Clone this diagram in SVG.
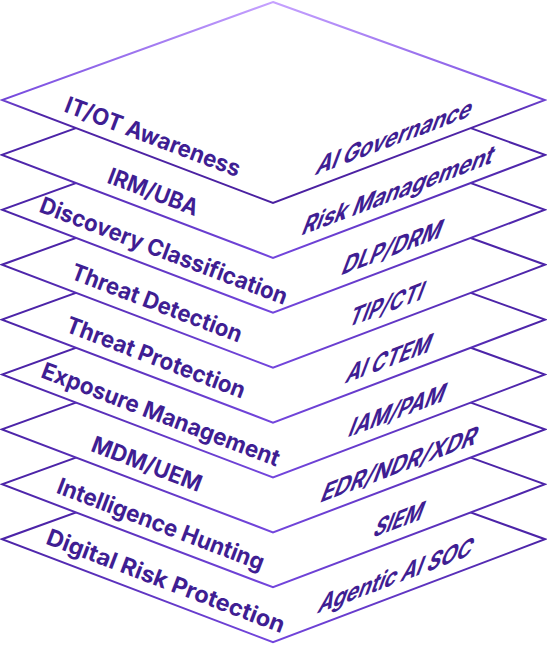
<svg xmlns="http://www.w3.org/2000/svg" width="547" height="645" viewBox="0 0 547 645">
<defs>
<linearGradient id="gTop" x1="0" y1="0" x2="0" y2="1">
<stop offset="0" stop-color="#c6a2ff"/>
<stop offset="0.46" stop-color="#7a4ee0"/>
<stop offset="0.56" stop-color="#4f25a8"/>
<stop offset="1" stop-color="#4a20a0"/>
</linearGradient>
<linearGradient id="gLayer" x1="0" y1="0" x2="0" y2="1">
<stop offset="0" stop-color="#4c24a8"/>
<stop offset="0.5" stop-color="#4c24a8"/>
<stop offset="1" stop-color="#7346dd"/>
</linearGradient>
</defs>
<style>
.layer{fill:#ffffff;stroke:url(#gLayer);stroke-width:2;stroke-linejoin:miter}
.top{stroke:url(#gTop)}
.lbl{font-family:Inter,"Noto Sans",sans-serif;font-weight:650;font-size:23px;fill:#3f1e93;text-anchor:middle}
</style>
<g id="connectors"/>
<g id="layer-8">
<polygon class="layer" points="273,441.2 545,539.2 273,642.2 2,539.2"/>
<text class="lbl" transform="translate(163,588.4) rotate(20.8)" textLength="253" lengthAdjust="spacingAndGlyphs">Digital Risk Protection</text>
<text class="lbl" transform="matrix(0.9348,-0.3551,-0.44,1.17,393,584.7)" textLength="164" lengthAdjust="spacingAndGlyphs">Agentic AI SOC</text>
</g>
<g id="layer-7">
<polygon class="layer" points="273,386.3 545,484.3 273,587.3 2,484.3"/>
<text class="lbl" transform="translate(158,531.6) rotate(20.8)" textLength="220" lengthAdjust="spacingAndGlyphs">Intelligence Hunting</text>
<text class="lbl" transform="matrix(0.9348,-0.3551,-0.44,1.17,396,528.7)" textLength="52" lengthAdjust="spacingAndGlyphs">SIEM</text>
</g>
<g id="layer-6">
<polygon class="layer" points="273,331.4 545,429.4 273,532.4 2,429.4"/>
<text class="lbl" transform="translate(144,471.4) rotate(20.8)" textLength="116" lengthAdjust="spacingAndGlyphs">MDM/UEM</text>
<text class="lbl" transform="matrix(0.9348,-0.3551,-0.44,1.17,396.5,473.6)" textLength="166" lengthAdjust="spacingAndGlyphs">EDR/NDR/XDR</text>
</g>
<g id="layer-5">
<polygon class="layer" points="273,276.5 545,374.5 273,477.5 2,374.5"/>
<text class="lbl" transform="translate(158,421.8) rotate(20.8)" textLength="253" lengthAdjust="spacingAndGlyphs">Exposure Management</text>
<text class="lbl" transform="matrix(0.9348,-0.3551,-0.44,1.17,394.5,419.5)" textLength="102" lengthAdjust="spacingAndGlyphs">IAM/PAM</text>
</g>
<g id="layer-4">
<polygon class="layer" points="273,221.6 545,319.6 273,422.6 2,319.6"/>
<text class="lbl" transform="translate(153,365) rotate(20.8)" textLength="190" lengthAdjust="spacingAndGlyphs">Threat Protection</text>
<text class="lbl" transform="matrix(0.9348,-0.3551,-0.44,1.17,386,367.8)" textLength="90" lengthAdjust="spacingAndGlyphs">AI CTEM</text>
</g>
<g id="layer-3">
<polygon class="layer" points="273,166.7 545,264.7 273,367.7 2,264.7"/>
<text class="lbl" transform="translate(154,310.5) rotate(20.8)" textLength="181" lengthAdjust="spacingAndGlyphs">Threat Detection</text>
<text class="lbl" transform="matrix(0.9348,-0.3551,-0.44,1.17,384,313.6)" textLength="79" lengthAdjust="spacingAndGlyphs">TIP/CTI</text>
</g>
<g id="layer-2">
<polygon class="layer" points="273,111.8 545,209.8 273,312.8 2,209.8"/>
<text class="lbl" transform="translate(161,258.2) rotate(20.8)" textLength="263" lengthAdjust="spacingAndGlyphs">Discovery Classification</text>
<text class="lbl" transform="matrix(0.9348,-0.3551,-0.44,1.17,389.5,256.6)" textLength="106" lengthAdjust="spacingAndGlyphs">DLP/DRM</text>
</g>
<g id="layer-1">
<polygon class="layer" points="273,56.9 545,154.9 273,257.9 2,154.9"/>
<text class="lbl" transform="translate(150.5,199.3) rotate(20.8)" textLength="95" lengthAdjust="spacingAndGlyphs">IRM/UBA</text>
<text class="lbl" transform="matrix(0.9348,-0.3551,-0.44,1.17,395.5,199.5)" textLength="204" lengthAdjust="spacingAndGlyphs">Risk Management</text>
</g>
<g id="layer-0">
<polygon class="layer top" points="273,2 545,100 273,203 2,100"/>
<text class="lbl" transform="translate(150,144.2) rotate(20.8)" textLength="186" lengthAdjust="spacingAndGlyphs">IT/OT Awareness</text>
<text class="lbl" transform="matrix(0.9348,-0.3551,-0.44,1.17,391.5,146.1)" textLength="166" lengthAdjust="spacingAndGlyphs">AI Governance</text>
</g>
</svg>
